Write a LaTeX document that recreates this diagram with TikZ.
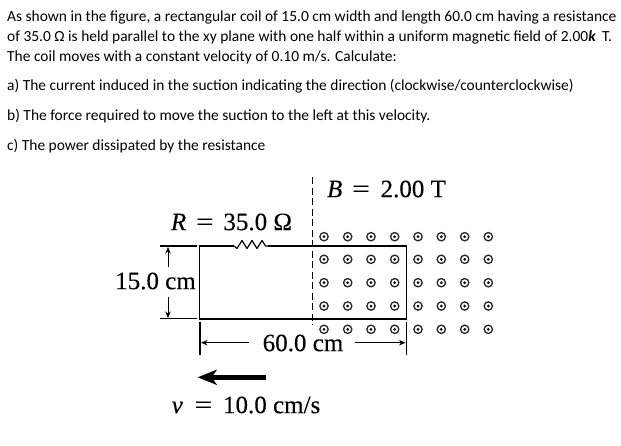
\documentclass[tikz,border=0pt]{standalone}
\usepackage{graphicx}
\usepackage{fontspec}
\setmainfont{Carlito}
\newfontfamily\figfont[FakeBold=0.2]{Liberation Serif}
\usetikzlibrary{arrows.meta}
\tikzset{
 x=1pt,y=-1pt,
 para/.style={anchor=base west,inner sep=0pt,font=\fontsize{15.45}{17}\selectfont},
 figlabel/.style={inner sep=0pt,font=\figfont\fontsize{25}{28}\selectfont},
 coilline/.style={line width=1.6pt,black},
 thinline/.style={line width=1.1pt,black},
 dimarrow/.style={line width=0.9pt,-{Stealth[length=6.5pt,width=5.5pt]}},
 fielddot/.style={circle,draw=black!85,line width=1.3pt,fill=white,minimum size=8.3pt,inner sep=0pt,
   path picture={\fill[black] (path picture bounding box.center) circle (1.5pt);}},
}
\newcommand{\fieldrow}[2]{%
 \foreach \px [count=\ci] in {324,347.7,371,394.7,418,441.3,464.7,488.3}
  \node[fielddot] (dot#1\ci) at (\px,#2) {};}
\newcommand{\eqsign}{\hspace{9.8pt}\scalebox{1.25}[1]{=}\hspace{9.8pt}}
\begin{document}
\begin{tikzpicture}
\useasboundingbox[fill=white] (0,0) rectangle (621,445);
\node[para] (t1) at (7,21) {As shown in the figure, a rectangular coil of 15.0 cm width and length 60.0 cm having a resistance};
\node[para] (t2) at (7,41) {of 35.0 Ω is held parallel to the xy plane with one half within a uniform magnetic field of 2.00\textbf{\textit{k}}\, T.};
\node[para] (t3) at (7,61) {The coil moves with a constant velocity of 0.10 m/s. Calculate:};
\node[para] (t4) at (7,90) {a) The current induced in the suction indicating the direction (clockwise/counterclockwise)};
\node[para] (t5) at (7,120) {b) The force required to move the suction to the left at this velocity.};
\node[para] (t6) at (7,150) {c) The power dissipated by the resistance};
% field dots
\fieldrow{a}{236.7}\fieldrow{b}{259.3}\fieldrow{c}{282.7}\fieldrow{d}{306}\fieldrow{e}{329.3}
% coil
\coordinate (tl) at (199.5,246);\coordinate (tr) at (406.7,246);
\coordinate (bl) at (199.5,318.7);\coordinate (br) at (406.7,318.7);
\coordinate (ra) at (234,246);\coordinate (rb) at (268,246);
\draw[coilline,line join=miter] (ra) -- (tl) -- (bl) -- (br);
\draw[coilline] (rb) -- (tr);
\draw[line width=.9pt] (tr) -- (br);
\draw[line width=1.2pt,line join=bevel] (ra) -- ++(3,2.5) -- ++(5,-8) -- ++(5,8) -- ++(5,-8) -- ++(5,8) -- ++(5,-8) -- ++(3.5,5.5) -- (rb);
% dashed boundary
\coordinate (dtop) at (312.7,177);\coordinate (dbot) at (312.7,325);
\draw[thinline,dash pattern=on 7pt off 3.5pt] (dtop) -- (dbot);
% height dimension
\coordinate (e1a) at (160,246);\coordinate (e1b) at (197,246);
\coordinate (e2a) at (160,318.7);\coordinate (e2b) at (197,318.7);
\draw[thinline] (e1a) -- (e1b);\draw[thinline] (e2a) -- (e2b);
\coordinate (ua) at (168,266.5);\coordinate (ub) at (168,247);
\coordinate (da) at (168,296.5);\coordinate (db) at (168,318);
\draw[dimarrow] (ua) -- (ub);\draw[dimarrow] (da) -- (db);
% width dimension
\coordinate (l1) at (200,321.7);\coordinate (l2) at (200,355);
\coordinate (r1) at (406.7,321.7);\coordinate (r2) at (406.7,355);
\draw[line width=1.3pt] (l1) -- (l2);\draw[line width=.7pt] (r1) -- (r2);
\coordinate (wa) at (249,342.7);\coordinate (wb) at (201,342.7);
\coordinate (wc) at (355,342.7);\coordinate (wd) at (405.5,342.7);
\draw[dimarrow] (wa) -- (wb);\draw[dimarrow] (wc) -- (wd);
% velocity arrow
\coordinate (va) at (266,377.3);\coordinate (vb) at (197.7,377.3);
\draw[line width=5pt,-{Stealth[length=19pt,width=15pt,inset=5pt]}] (va) -- (vb);
% labels
\node[figlabel] (lR) at (231.5,222) {\textit{R}\eqsign 35.0 Ω};
\node[figlabel] (lH) at (155.5,281) {15.0 cm};
\node[figlabel] (lW) at (303,343) {60.0 cm};
\node[figlabel] (lB) at (386.5,189) {\textit{B}\eqsign\hspace{1pt}2.00 T};
\node[figlabel] (lV) at (246,405) {\textit{v}\hspace{2pt}\eqsign\hspace{1pt}10.0 cm/s};
\end{tikzpicture}
\end{document}
